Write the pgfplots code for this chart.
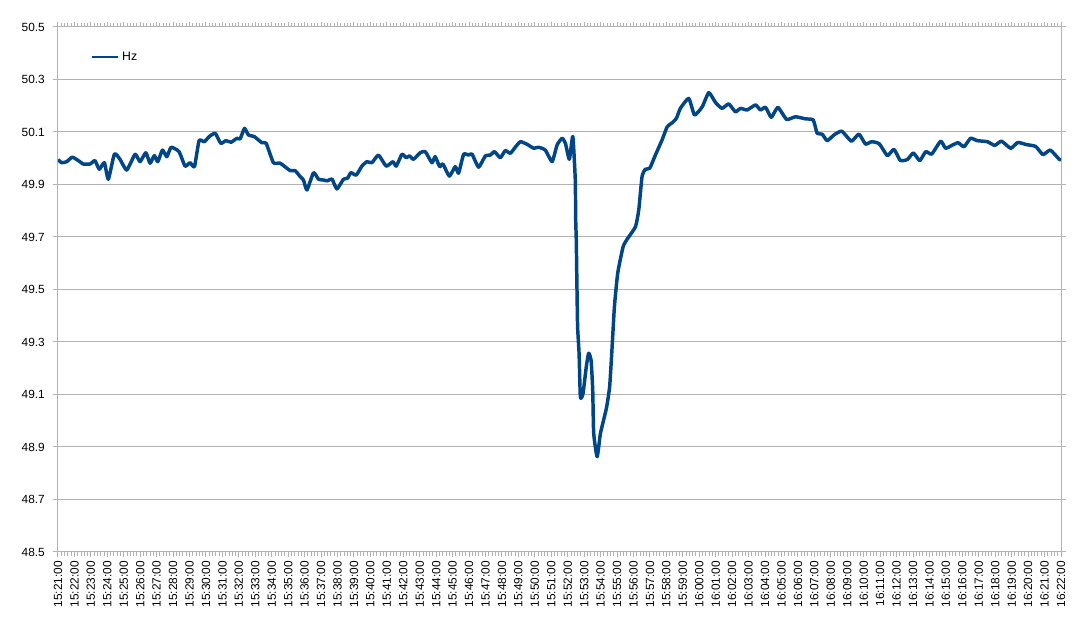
\documentclass[border=0pt]{standalone}
\usepackage{fontspec}
\setmainfont{Liberation Sans}
\usepackage{pgfplots}
\pgfplotsset{compat=1.18}
\definecolor{hzblue}{HTML}{004586}
\definecolor{gridgray}{HTML}{B3B3B3}
\begin{document}
\fontsize{8.9}{10}\selectfont
\begin{tikzpicture}
\begin{axis}[
    scale only axis,
    width=752.25pt, height=393.75pt,
    xmin=0, xmax=61,
    ymin=48.5, ymax=50.5,
    ytick={48.5,48.7,48.9,49.1,49.3,49.5,49.7,49.9,50.1,50.3,50.5},
    yticklabel style={/pgf/number format/fixed, /pgf/number format/fixed zerofill,
        /pgf/number format/precision=1, /pgf/number format/assume math mode=true,
        xshift=-3pt, font=\fontsize{8.9}{10}\selectfont},
    xtick={0,1,...,61},
    minor x tick num=4,
    xticklabels={15:21:00,15:22:00,15:23:00,15:24:00,15:25:00,15:26:00,15:27:00,15:28:00,15:29:00,15:30:00,
        15:31:00,15:32:00,15:33:00,15:34:00,15:35:00,15:36:00,15:37:00,15:38:00,15:39:00,15:40:00,
        15:41:00,15:42:00,15:43:00,15:44:00,15:45:00,15:46:00,15:47:00,15:48:00,15:49:00,15:50:00,
        15:51:00,15:52:00,15:53:00,15:54:00,15:55:00,15:56:00,15:57:00,15:58:00,15:59:00,16:00:00,
        16:01:00,16:02:00,16:03:00,16:04:00,16:05:00,16:06:00,16:07:00,16:08:00,16:09:00,16:10:00,
        16:11:00,16:12:00,16:13:00,16:14:00,16:15:00,16:16:00,16:17:00,16:18:00,16:19:00,16:20:00,
        16:21:00,16:22:00},
    xticklabel style={rotate=90, anchor=east, font=\fontsize{8.9}{10}\selectfont},
    tick align=outside,
    major tick length=3.75pt, minor tick length=3pt,
    tick style={gridgray, line width=0.75pt},
    axis line style={gridgray, line width=0.75pt},
    ymajorgrids,
    grid style={gridgray, line width=0.75pt},
    legend style={draw=none, fill=none, at={(0.028,0.943)}, anchor=west,
        font=\fontsize{9.2}{10}\selectfont},
    legend cell align=left,
    legend image code/.code={\draw[#1, line width=1.9pt] (0pt,0pt) -- (20pt,0pt);},
    ]
    % frequency trace, minutes after 15:21:00
    \addplot[hzblue, line width=2.6pt, line join=round, smooth, tension=0.3] coordinates {
    (0,49.995)(0.225,49.983)(0.53,49.987)(0.87,50.004)(1.235,49.991)(1.54,49.978)(1.95,49.978)
    (2.25,49.991)(2.51,49.958)(2.82,49.983)(3.06,49.92)(3.43,50.016)(3.77,49.996)(4.18,49.955)
    (4.69,50.015)(4.99,49.987)(5.34,50.021)(5.60,49.981)(5.86,50.010)(6.07,49.987)(6.35,50.031)
    (6.62,50.006)(6.88,50.042)(7.36,50.025)(7.73,49.970)(8.03,49.983)(8.30,49.968)(8.58,50.067)
    (8.90,50.063)(9.19,50.082)(9.56,50.095)(9.90,50.057)(10.21,50.067)(10.53,50.061)(10.88,50.076)
    (11.08,50.074)(11.34,50.114)(11.58,50.089)(11.95,50.082)
    (12.40,50.059)(12.66,50.057)(13.10,49.983)(13.51,49.981)(14.12,49.953)(14.42,49.953)
    (14.73,49.930)(14.93,49.917)(15.14,49.879)(15.54,49.945)(15.84,49.92)(16.15,49.917)
    (16.39,49.914)(16.66,49.921)(16.96,49.883)(17.36,49.92)(17.61,49.924)(17.81,49.945)
    (18.14,49.936)(18.48,49.970)(18.79,49.987)(19.09,49.983)(19.49,50.012)(19.96,49.970)
    (20.37,49.987)(20.57,49.970)(20.92,50.015)(21.18,50.002)(21.38,50.009)(21.62,49.996)
    (22.03,50.021)(22.34,50.025)(22.74,49.983)(22.94,50.006)(23.21,49.968)(23.41,49.978)(23.8,49.932)
    (24.16,49.968)(24.36,49.943)(24.67,50.015)(24.97,50.012)(25.18,50.016)(25.58,49.966)
    (25.99,50.009)(26.29,50.012)(26.55,50.025)(26.90,50.002)(27.20,50.029)(27.51,50.019)
    (27.81,50.042)(28.12,50.063)(28.53,50.053)(28.93,50.038)(29.23,50.042)(29.64,50.031)
    (30.05,49.987)(30.35,50.050)(30.66,50.076)(30.86,50.057)(31.10,49.996)(31.31,50.083)
    (31.46,49.917)(31.48,49.777)(31.52,49.689)(31.55,49.56)(31.60,49.36)(31.69,49.257)
    (31.77,49.09)(31.93,49.104)(32.13,49.206)(32.27,49.257)(32.42,49.231)(32.52,49.117)
    (32.58,48.952)(32.79,48.863)(32.99,48.952)(33.35,49.047)(33.55,49.130)(33.70,49.282)
    (33.84,49.434)(34.04,49.562)(34.37,49.663)(34.65,49.695)(35.12,49.739)(35.32,49.803)
    (35.52,49.93)(35.72,49.958)(35.99,49.962)(36.33,50.012)(36.74,50.07)(37.05,50.12)
    (37.35,50.135)(37.61,50.152)(37.85,50.19)(38.36,50.228)(38.71,50.165)(39.18,50.196)
    (39.58,50.25)(39.99,50.212)(40.39,50.19)(40.79,50.207)(41.20,50.177)(41.51,50.19)
    (41.91,50.184)(42.42,50.203)(42.72,50.184)(43.03,50.194)(43.38,50.156)(43.78,50.194)
    (44.31,50.148)(44.85,50.158)(45.46,50.15)(45.93,50.146)(46.17,50.095)(46.47,50.092)
    (46.78,50.067)(47.20,50.089)(47.67,50.103)(48.25,50.065)(48.71,50.092)(49.11,50.054)
    (49.49,50.063)(49.95,50.055)(50.44,50.01)(50.84,50.034)(51.22,49.992)(51.65,49.995)
    (52.02,50.02)(52.41,49.991)(52.77,50.025)(53.14,50.016)(53.68,50.065)(53.98,50.038)
    (54.39,50.05)(54.74,50.059)(55.10,50.044)(55.50,50.076)(55.91,50.067)(56.52,50.063)
    (56.97,50.049)(57.38,50.065)(57.94,50.038)(58.37,50.06)(58.90,50.052)(59.46,50.045)
    (59.90,50.014)(60.35,50.031)(60.89,49.996)(61.0,49.993)
    };
    \addlegendentry{Hz}
\end{axis}
\pgfresetboundingbox
\path ([shift={(-43.5pt,-53.25pt)}]current axis.south west)
    rectangle ([shift={(16.5pt,20.25pt)}]current axis.north east);
\end{tikzpicture}
\end{document}
